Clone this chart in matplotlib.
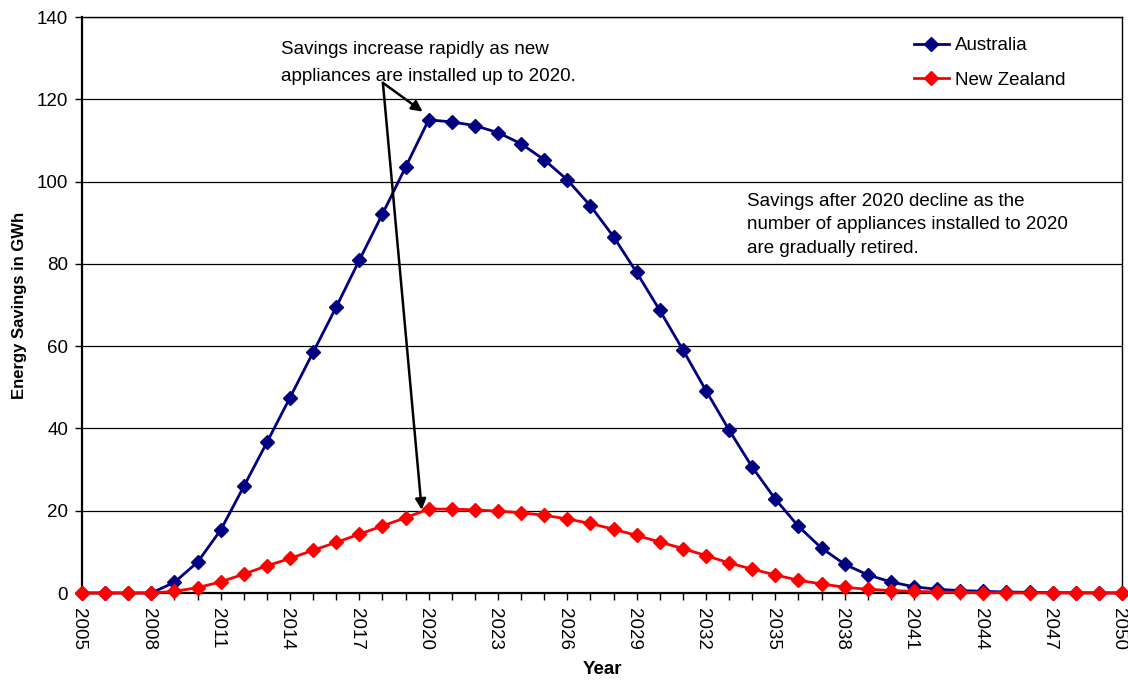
import matplotlib
matplotlib.use("Agg")
import matplotlib.pyplot as plt
from matplotlib.ticker import MultipleLocator
from matplotlib.transforms import ScaledTranslation

plt.rcParams['font.family'] = ['Liberation Sans', 'DejaVu Sans']

years = list(range(2005, 2051))

australia = [0, 0, 0, 0, 2.6, 7.5, 15.3, 25.9, 36.6, 47.5, 58.5, 69.5, 80.9, 92.1, 103.5,
             115.0, 114.5, 113.6, 111.9, 109.2, 105.3, 100.4, 94.1, 86.6, 77.9, 68.7,
             59.1, 49.2, 39.6, 30.6, 22.8, 16.2, 10.9, 7.0, 4.4, 2.7, 1.5, 0.9, 0.6,
             0.4, 0.25, 0.15, 0.1, 0.05, 0.03, 0.0]

new_zealand = [0, 0, 0, 0, 0.4, 1.3, 2.7, 4.6, 6.6, 8.4, 10.4, 12.3, 14.3, 16.3, 18.3,
               20.4, 20.4, 20.2, 19.9, 19.5, 18.9, 18.0, 16.9, 15.5, 14.0, 12.4,
               10.8, 9.1, 7.3, 5.8, 4.4, 3.1, 2.2, 1.4, 0.9, 0.6, 0.4, 0.25, 0.15,
               0.1, 0.05, 0.03, 0.02, 0.01, 0.0, 0.0]

year_ticks = list(range(2005, 2051, 3))

series_labels = ['Australia', 'New Zealand']
series_colors = ['#000080', '#FF0000']

note_rise = ['Savings increase rapidly as new',
             'appliances are installed up to 2020.']
note_decline = ['Savings after 2020 decline as the',
                'number of appliances installed to 2020',
                'are gradually retired.']

fig = plt.figure(figsize=(11.28, 6.82), dpi=100)
ax = fig.add_axes([82 / 1128, 1 - 593 / 682, 1040 / 1128, 576 / 682])

for vals, lab, col in zip([australia, new_zealand], series_labels, series_colors):
    ax.plot(years, vals, color=col, lw=2.0, marker='D', markersize=6.8,
            markeredgecolor=col, markerfacecolor=col, label=lab, clip_on=False, zorder=3)

ax.set_xlim(2005, 2050)
ax.set_ylim(0, 140)
ax.yaxis.set_major_locator(MultipleLocator(20))
ax.set_xticks(year_ticks)
ax.xaxis.set_minor_locator(MultipleLocator(1))
ax.grid(axis='y', color='black', lw=0.9, zorder=0)

ax.tick_params(axis='y', direction='out', length=5, width=1, labelsize=13.5, pad=5)
ax.tick_params(axis='x', which='both', direction='out', length=5, width=1)
ax.tick_params(axis='x', which='major', labelsize=13.5, pad=6, labelrotation=-90)

# nudge the rotated year labels slightly left so the last one stays inside the figure
shift = ScaledTranslation(-3 / 100, 0, fig.dpi_scale_trans)
for lbl in ax.get_xticklabels():
    lbl.set_transform(lbl.get_transform() + shift)

for side in ['left', 'bottom']:
    ax.spines[side].set_linewidth(1.6)
for side in ['top', 'right']:
    ax.spines[side].set_linewidth(1.0)

ax.set_xlabel('Year', fontsize=13.5, fontweight='bold')
ax.xaxis.set_label_coords(0.5, -0.118)
ax.set_ylabel('Energy Savings in GWh', fontsize=12, fontweight='bold')
ax.yaxis.set_label_coords(-0.053, 0.5)

ax.legend(loc='upper left', bbox_to_anchor=(0.800, 0.965), frameon=False,
          fontsize=13.5, handlelength=1.85, handletextpad=0.35, labelspacing=0.92,
          borderpad=0, borderaxespad=0, numpoints=1)

# annotation lines, placed by baseline in data units
rise_x, rise_y0, rise_step = 2013.61, 131.0, 6.5
for i, line in enumerate(note_rise):
    ax.text(rise_x, rise_y0 - i * rise_step, line, fontsize=13.5,
            ha='left', va='baseline')

decl_x, decl_y0, decl_step = 2033.78, 94.1, 5.67
for i, line in enumerate(note_decline):
    ax.text(decl_x, decl_y0 - i * decl_step, line, fontsize=13.5,
            ha='left', va='baseline')

arrow_start = (2018.02, 124.0)
for tip in [(2019.74, 117.0), (2019.7, 20.2)]:
    ax.annotate('', xy=tip, xytext=arrow_start,
                arrowprops=dict(arrowstyle='-|>', color='black', lw=1.8,
                                mutation_scale=16, shrinkA=0, shrinkB=0))

fig.savefig('out.png', dpi=100)
